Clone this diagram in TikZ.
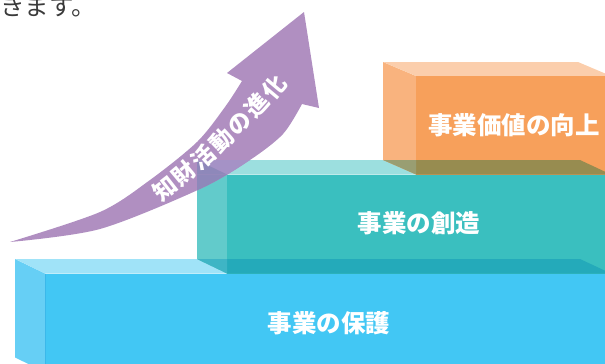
\documentclass[tikz,border=0pt]{standalone}
\usepackage{fontspec}
\newfontfamily\jp{Noto Sans CJK JP}
\definecolor{bfront}{HTML}{42C7F4}
\definecolor{btop}{HTML}{A0E3F8}
\definecolor{bside}{HTML}{66CFF5}
\definecolor{bedge}{HTML}{3BB8EA}
\definecolor{tfront}{HTML}{3ABFBF}
\definecolor{ttop}{HTML}{9CDFDF}
\definecolor{tside}{HTML}{62CBCB}
\definecolor{tovb}{HTML}{24AABA}
\definecolor{tsovb}{HTML}{3EB5C5}
\definecolor{ofront}{HTML}{F7A05B}
\definecolor{otop}{HTML}{FBCEAC}
\definecolor{oside}{HTML}{F9B37E}
\definecolor{oovt}{HTML}{978C50}
\definecolor{osovt}{HTML}{999E72}
\definecolor{arrowc}{HTML}{B08FC1}
\definecolor{aovts}{HTML}{8E88BA}
\definecolor{aovtt}{HTML}{A592C6}
\definecolor{topgray}{HTML}{3A3A3A}
\begin{document}
\begin{tikzpicture}[x=1pt,y=-1pt,
  lbl/.style={text=white,inner sep=0pt,font=\jp\bfseries\fontsize{24.5}{24.5}\selectfont},
  atxt/.style={text=white,inner sep=0pt,font=\jp\bfseries\fontsize{23}{23}\selectfont}]
\useasboundingbox (0,0) rectangle (605,364);
\clip (0,0) rectangle (605,364);
\def\arrowpath{plot[smooth] coordinates {(10,242) (100,212) (150,180) (197,142) (225,107) (242,81)}
  -- (227,73) -- (304,12) -- (319,108)
  -- plot[smooth] coordinates {(302,104) (283,134) (250,160) (200,189) (100,229) (10,242)} -- cycle}
% blue box
\fill[bside] (15,259) -- (45,273.5) -- (45,372) -- (15,357.5) -- cycle;
\fill[btop] (15,259) -- (45,273.5) -- (611,273.5) -- (580,259) -- cycle;
\fill[bfront] (45,273.5) rectangle (611,372);
\draw[bedge,line width=0.8pt] (45,273.5) -- (45,372);
% teal box
\fill[tside] (197,160) -- (227,174.5) -- (227,273.5) -- (197,259) -- cycle;
\fill[ttop] (197,160) -- (227,174.5) -- (611,174.5) -- (580,160) -- cycle;
\fill[tfront] (227,174.5) rectangle (611,273.5);
\fill[tovb] (227,259) -- (227,273.5) -- (611,273.5) -- (580,259) -- cycle;
\fill[tsovb] (197,259) -- (227,273.5) -- (227,259) -- cycle;
% orange box
\fill[oside] (383,62) -- (416,76) -- (416,174.5) -- (383,160) -- cycle;
\fill[otop] (383,62) -- (416,76) -- (611,76) -- (578,62) -- cycle;
\fill[ofront] (416,76) rectangle (611,174.5);
\fill[oovt] (416,160) -- (416,174.5) -- (611,174.5) -- (580,160) -- cycle;
\fill[osovt] (383,160) -- (416,174.5) -- (416,160) -- cycle;
% arrow
\fill[arrowc] \arrowpath;
\begin{scope}
  \clip \arrowpath;
  \fill[aovtt] (197,160) -- (227,174.5) -- (611,174.5) -- (580,160) -- cycle;
  \fill[aovts] (197,174.5) -- (227,174.5) -- (227,273.5) -- (197,259) -- cycle;
  \fill[aovts] (197,160) -- (227,174.5) -- (197,174.5) -- cycle;
\end{scope}
% arrow text
\node[atxt,rotate=38] (a1) at (165,189) {知};
\node[atxt,rotate=40] (a2) at (184,173) {財};
\node[atxt,rotate=42] (a3) at (203,157) {活};
\node[atxt,rotate=44] (a4) at (222,140.5) {動};
\node[atxt,rotate=46] (a5) at (240,123.5) {の};
\node[atxt,rotate=48] (a6) at (257,105.5) {進};
\node[atxt,rotate=50] (a7) at (274,87.5) {化};
% labels
\node[lbl] (t1) at (329,323) {事業の保護};
\node[lbl] (t2) at (419,223) {事業の創造};
\node[lbl] (t3) at (514,125) {事業価値の向上};
\node[anchor=base west,inner sep=0pt,text=topgray,font=\jp\fontsize{24.5}{24.5}\selectfont] (top) at (0,16) {きます。};
\end{tikzpicture}
\end{document}
